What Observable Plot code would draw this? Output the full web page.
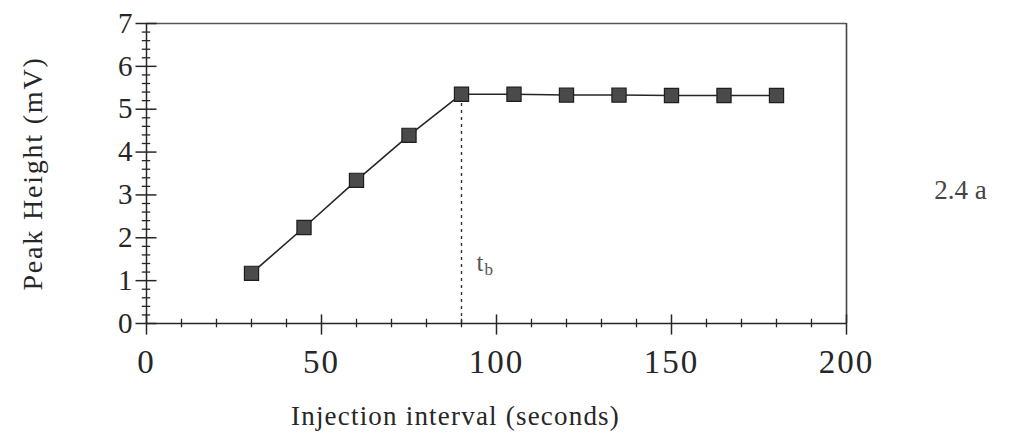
<!DOCTYPE html>
<html>
<head>
<meta charset="utf-8">
<script src="https://cdn.jsdelivr.net/npm/d3@7"></script>
<script src="https://cdn.jsdelivr.net/npm/@observablehq/plot@0.6"></script>
<style>
  html, body { margin: 0; padding: 0; background: #fff; }
  #chart svg { display: block; }
</style>
</head>
<body>
<div id="chart"></div>
<script>
// Data
const intervals = [30, 45, 60, 75, 90, 105, 120, 135, 150, 165, 180];
const peakHeights = [1.17, 2.24, 3.34, 4.39, 5.35, 5.35, 5.33, 5.33, 5.32, 5.32, 5.32];
const xTickLabels = [0, 50, 100, 150, 200];
const yTickLabels = [0, 1, 2, 3, 4, 5, 6, 7];
const xMinorTicks = d3.range(0, 201, 10);
const yMinorTicks = d3.range(0, 7.01, 0.2);
const breakpoint = 90;
const xTitle = "Injection interval (seconds)";
const yTitle = "Peak Height (mV)";
const figureTag = "2.4 a";

const points = intervals.map((x, i) => ({x, y: peakHeights[i]}));
const tb = points.find(d => d.x === breakpoint);

const ink = "#262626";
const serif = "'Liberation Serif', 'DejaVu Serif', serif";

const chart = Plot.plot({
  width: 1024,
  height: 445,
  marginLeft: 146,
  marginRight: 178,
  marginTop: 23,
  marginBottom: 122,
  x: {domain: [0, 200]},
  y: {domain: [0, 7]},
  style: {fontFamily: serif, color: ink, background: "#fff", overflow: "visible"},
  marks: [
    // frame (top & right)
    Plot.ruleY([7], {x1: 0, x2: 200, stroke: "#555", strokeWidth: 1.3}),
    Plot.ruleX([200], {y1: 0, y2: 7, stroke: "#444", strokeWidth: 1.6}),
    // axes lines
    Plot.ruleX([0], {y1: 0, y2: 7, stroke: ink, strokeWidth: 1.5}),
    Plot.ruleY([0], {x1: 0, x2: 200, stroke: ink, strokeWidth: 1.5}),
    // minor + major ticks crossing the axes
    Plot.ruleX(xMinorTicks.filter(v => v % 50 !== 0), {y1: -0.1, y2: 0.1, stroke: ink, strokeWidth: 1.3}),
    Plot.ruleX(xTickLabels, {y1: -0.27, y2: 0.2, stroke: ink, strokeWidth: 1.5}),
    Plot.ruleY(yMinorTicks.filter(v => Math.abs(v - Math.round(v)) > 1e-6), {x1: -1.2, x2: 1.2, stroke: ink, strokeWidth: 1.3}),
    Plot.ruleY(yTickLabels, {x1: -3, x2: 3, stroke: ink, strokeWidth: 1.5}),
    // axis tick labels
    Plot.axisX(xTickLabels, {tickSize: 0, tickPadding: 26, fontSize: 33, label: null, fill: ink}),
    Plot.axisY(yTickLabels, {tickSize: 0, tickPadding: 14, fontSize: 29, label: null, fill: ink}),
    // breakpoint dashed line
    Plot.ruleX([tb], {x: "x", y1: 0, y2: "y", stroke: "#333", strokeWidth: 1.4, strokeDasharray: "3,4"}),
    // data line + square markers
    Plot.line(points, {x: "x", y: "y", stroke: ink, strokeWidth: 1.6}),
    Plot.dot(points, {x: "x", y: "y", symbol: "square", r: 8, fill: "#4a4a4a", stroke: "#1e1e1e", strokeWidth: 1.2}),
    // t_b label
    Plot.text([tb], {x: "x", y: 0, text: () => "t", dx: 15, dy: -61, fontSize: 25, fill: "#555", textAnchor: "start"}),
    Plot.text([tb], {x: "x", y: 0, text: () => "b", dx: 23, dy: -54, fontSize: 17, fill: "#555", textAnchor: "start"}),
    // axis titles
    Plot.text([xTitle], {frameAnchor: "bottom", textAnchor: "middle", dx: -41, dy: 101, fontSize: 27, fill: ink, text: d => d}),
    Plot.text([yTitle], {frameAnchor: "left", textAnchor: "middle", dx: -113, rotate: -90, fontSize: 28, fill: ink, text: d => d}),
    // figure tag
    Plot.text([figureTag], {frameAnchor: "right", textAnchor: "middle", y: 3.1, dx: 114, fontSize: 27, fill: "#444", text: d => d})
  ]
});

chart.querySelectorAll("text").forEach(t => {
  if (t.textContent === xTitle) t.setAttribute("letter-spacing", "1.2");
  if (t.textContent === yTitle) t.setAttribute("letter-spacing", "1.8");
});
chart.querySelectorAll("g[aria-label='x-axis tick label'] text").forEach(t => t.setAttribute("letter-spacing", "2"));
document.getElementById("chart").appendChild(chart);
</script>
</body>
</html>
